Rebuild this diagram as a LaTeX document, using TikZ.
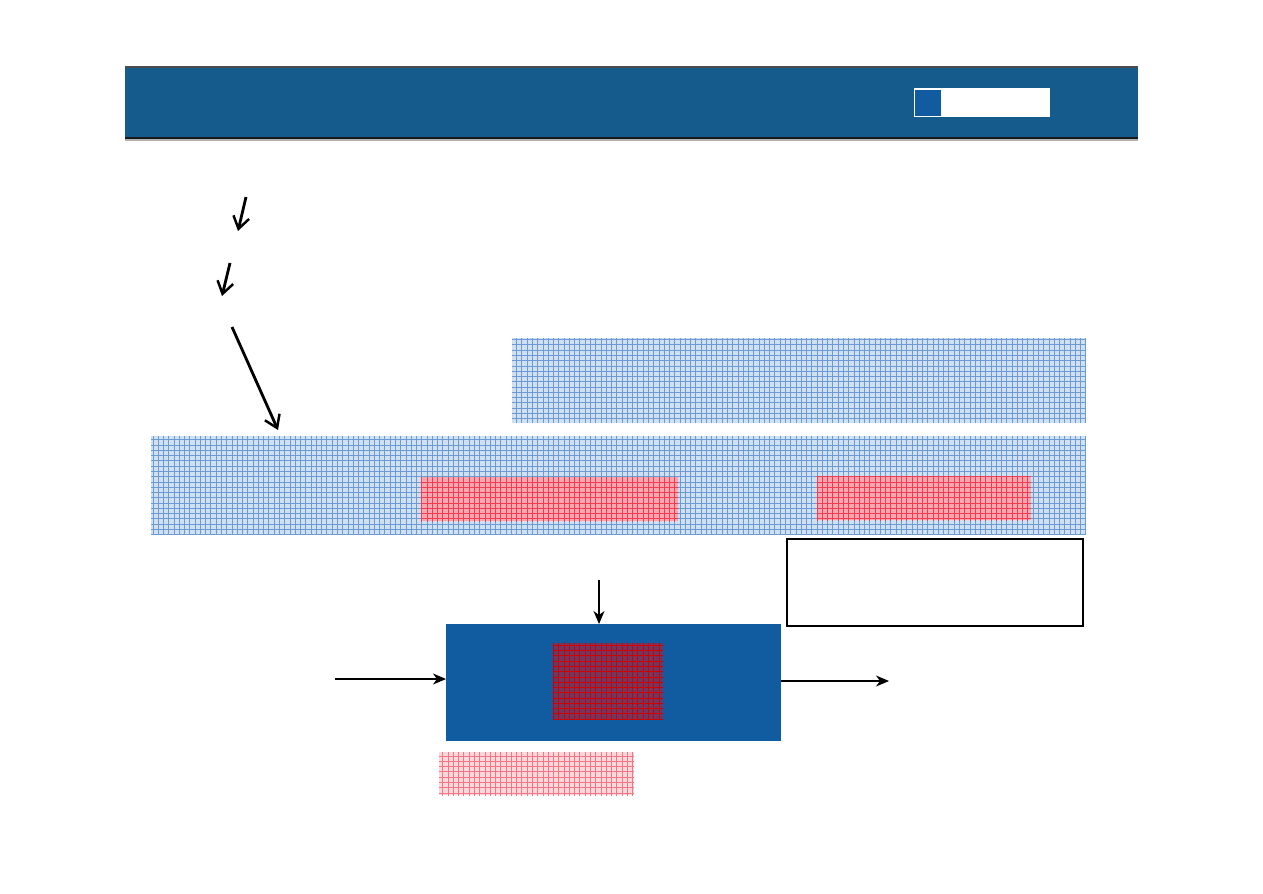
\documentclass[tikz,border=0pt]{standalone}
\usetikzlibrary{patterns,arrows.meta}

\definecolor{headblue}{RGB}{21,91,140}
\definecolor{boxblue}{RGB}{17,92,160}
\definecolor{gridblue}{RGB}{70,130,200}
\definecolor{gridred}{RGB}{240,60,80}

\tikzset{
  bluegrid/.style={preaction={fill=gridblue!25}, pattern=grid, pattern color=gridblue!80},
  redgrid/.style={preaction={fill=gridred!45}, pattern=grid, pattern color=gridred},
  pinkgrid/.style={preaction={fill=gridred!20}, pattern=grid, pattern color=gridred!70},
  darkgrid/.style={preaction={fill=red!40!boxblue}, pattern=grid, pattern color=red!80!black},
  box/.style={anchor=north west, inner sep=0, outer sep=0},
  bigarrow/.style={-{Straight Barb[length=2.4mm, width=3.2mm, line width=1.4pt]}, line width=1.6pt},
  smallarrow/.style={-{Stealth[length=2.6mm, width=2.2mm, inset=0.8mm]}, semithick}
}

\begin{document}
\begin{tikzpicture}[x=0.02cm, y=-0.02cm]
  \useasboundingbox (0,0) rectangle (1263,893);

  % 标题栏
  \fill[headblue] (125,67) rectangle (1138,138);
  \draw[black!70, line width=0.8pt] (125,67) -- (1138,67);
  \draw[black!30, line width=1.2pt] (125,139.5) -- (1138,139.5);
  \draw[black!90, line width=0.8pt] (125,138) -- (1138,138);
  \fill[white] (914,88) rectangle (1050,117);
  \fill[boxblue] (915,90) rectangle (941,116);

  % 网格方框
  \node[box, bluegrid, minimum width=11.48cm, minimum height=1.70cm] (upper) at (512,338) {};
  \node[box, bluegrid, minimum width=18.70cm, minimum height=1.98cm] (wide) at (151,436) {};
  \node[box, redgrid, minimum width=5.14cm, minimum height=0.88cm] (redL) at (421,477) {};
  \node[box, redgrid, minimum width=4.28cm, minimum height=0.88cm] (redR) at (817,476) {};
  \node[box, draw=black, thick, minimum width=5.92cm, minimum height=1.74cm] (note) at (787,539) {};

  % 中间的蓝色方块
  \node[box, fill=boxblue, minimum width=6.70cm, minimum height=2.34cm] (core) at (446,624) {};
  \node[box, darkgrid, minimum width=2.20cm, minimum height=1.52cm] (inner) at (553,643) {};
  \node[box, pinkgrid, minimum width=3.90cm, minimum height=0.86cm] (pink) at (439,752) {};

  % 箭头
  \coordinate (a1) at (246,197);
  \coordinate (b1) at (238,231);
  \coordinate (a2) at (230,263);
  \coordinate (b2) at (222,296);
  \coordinate (a3) at (232,327);
  \coordinate (b3) at (278,430);
  \coordinate (top) at (599,580);
  \coordinate (in) at (335,679);
  \coordinate (out) at (889,681);

  \draw[bigarrow] (a1) -- (b1);
  \draw[bigarrow] (a2) -- (b2);
  \draw[bigarrow] (a3) -- (b3);
  \draw[smallarrow] (top) -- (top |- core.north);
  \draw[smallarrow] (in) -- (in -| core.west);
  \draw[smallarrow] (out -| core.east) -- (out);
\end{tikzpicture}
\end{document}
